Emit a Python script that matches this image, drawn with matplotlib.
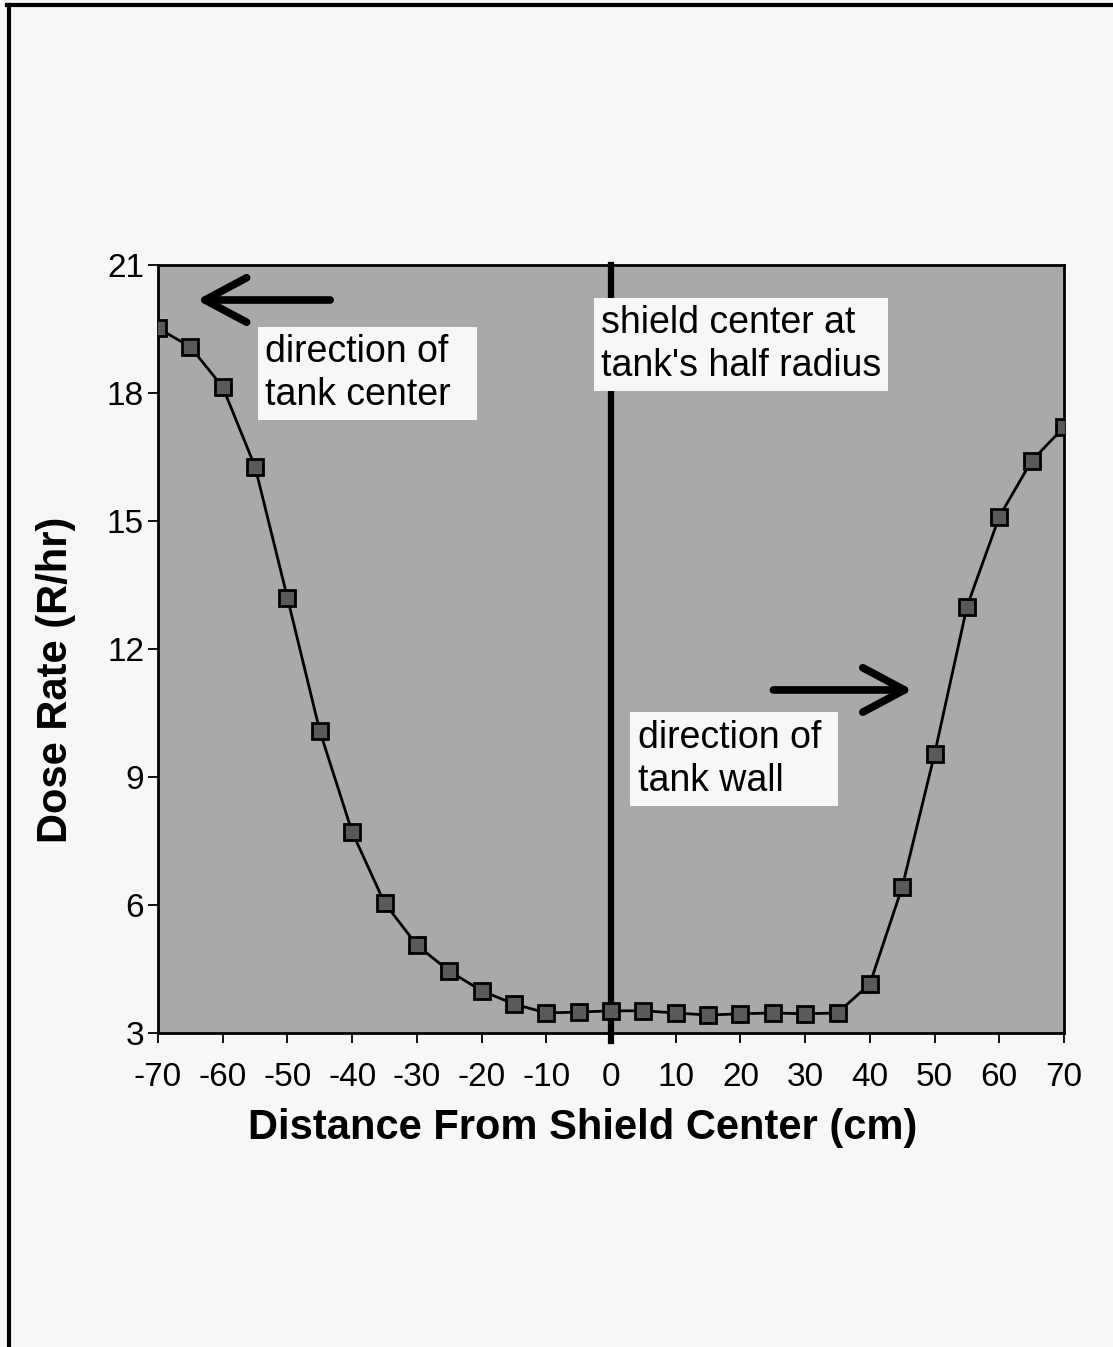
import matplotlib
matplotlib.use("Agg")
import matplotlib.pyplot as plt
from matplotlib.lines import Line2D

plt.rcParams['font.family'] = ['Liberation Sans', 'DejaVu Sans']
plt.rcParams['axes.unicode_minus'] = False

distance = [-70, -65, -60, -55, -50, -45, -40, -35, -30, -25, -20, -15, -10, -5,
            0, 5, 10, 15, 20, 25, 30, 35, 40, 45, 50, 55, 60, 65, 70]
dose_rate = [19.52, 19.08, 18.14, 16.27, 13.20, 10.08, 7.71, 6.05, 5.06, 4.45, 3.99,
             3.68, 3.47, 3.49, 3.52, 3.52, 3.47, 3.42, 3.45, 3.47, 3.45, 3.47,
             4.15, 6.42, 9.54, 12.99, 15.10, 16.41, 17.20]
x_ticks = [-70, -60, -50, -40, -30, -20, -10, 0, 10, 20, 30, 40, 50, 60, 70]
y_ticks = [3, 6, 9, 12, 15, 18, 21]

W, H = 1113, 1347
fig = plt.figure(figsize=(W / 100, H / 100), dpi=100, facecolor='#f7f7f7')

# outer frame (left and top lines)
fig.add_artist(Line2D([8.5 / W, 8.5 / W], [0, 1 - 5 / H], transform=fig.transFigure,
                      color='black', lw=3))
fig.add_artist(Line2D([7 / W, 1], [1 - 5 / H, 1 - 5 / H], transform=fig.transFigure,
                      color='black', lw=3))

ax = fig.add_axes([158 / W, 1 - 1033 / H, (1064 - 158) / W, (1033 - 265) / H])
ax.set_facecolor('#a9a9a9')

ax.plot(distance, dose_rate, color='black', lw=2.0, marker='s', markersize=11,
        markerfacecolor='#5a5a5a', markeredgecolor='black', markeredgewidth=2.0,
        zorder=5)

ax.axvline(0, color='black', lw=4.5, zorder=4, ymin=-0.01, ymax=1, clip_on=False)

ax.set_xlim(-70, 70)
ax.set_ylim(3, 21)
ax.set_xticks(x_ticks)
ax.set_yticks(y_ticks)
ax.tick_params(axis='both', direction='out', length=7, width=1.3, labelsize=24,
               colors='black')
ax.tick_params(axis='x', pad=14)
ax.tick_params(axis='y', pad=3)
for s in ax.spines.values():
    s.set_linewidth(2)
    s.set_color('black')

fig.text(583 / W, 1 - 1128 / H, 'Distance From Shield Center (cm)', fontsize=30,
         fontweight='bold', ha='center', va='center')
fig.text(56 / W, 1 - 680 / H, 'Dose Rate (R/hr)', fontsize=30, fontweight='bold',
         ha='center', va='center', rotation=90)

box = dict(facecolor='#f7f7f7', edgecolor='none', pad=5)
ax.text(-53.4, 18.45, 'direction of  \ntank center', fontsize=27, ha='left', va='center',
        bbox=box, zorder=6, linespacing=1.25)
ax.text(-1.6, 19.13, "shield center at\ntank's half radius", fontsize=27, ha='left',
        va='center', bbox=box, zorder=6, linespacing=1.25)
ax.text(4.1, 9.42, 'direction of \ntank wall', fontsize=27, ha='left', va='center',
        bbox=box, zorder=6, linespacing=1.25)

arrow = dict(arrowstyle='->,head_length=0.75,head_width=0.4', color='black', lw=5.5,
             mutation_scale=40, shrinkA=0, shrinkB=0)
ax.annotate('', xy=(-64.0, 20.18), xytext=(-43.4, 20.18), arrowprops=arrow, zorder=6)
ax.annotate('', xy=(46.6, 11.04), xytext=(25.1, 11.04), arrowprops=arrow, zorder=6)

fig.savefig('out.png', dpi=100, facecolor='#f7f7f7')
